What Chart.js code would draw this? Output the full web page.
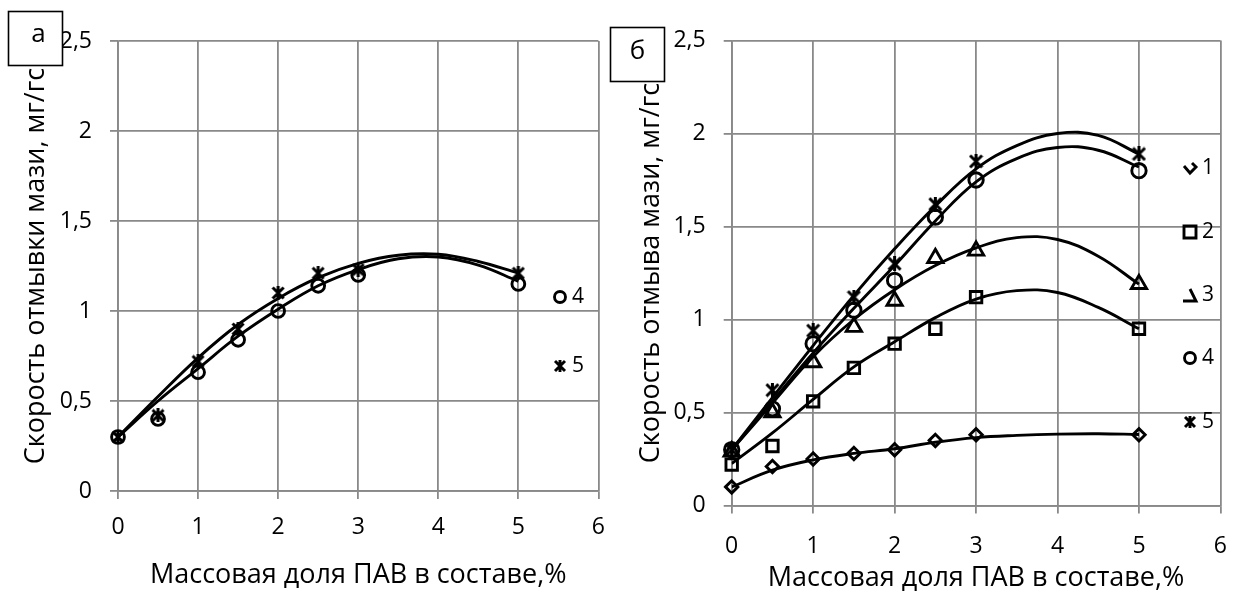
<!DOCTYPE html>
<html>
<head>
<meta charset="utf-8">
<script src="https://cdn.jsdelivr.net/npm/chart.js@4.4.1/dist/chart.umd.min.js"></script>
<style>
  html, body { margin: 0; padding: 0; background: #fff; }
  body { width: 1246px; height: 595px; position: relative; overflow: hidden; }
  canvas { position: absolute; top: 0; }
  #chart-a { left: 0; }
  #chart-b { left: 606px; }
</style>
</head>
<body>
<canvas id="chart-a" width="620" height="595"></canvas>
<canvas id="chart-b" width="640" height="595"></canvas>
<script>
// ---- данные ----
// массовая доля ПАВ, % (точки эксперимента и узлы линий тренда)
const X_POINTS = [0, 0.5, 1, 1.5, 2, 2.5, 3, 5];
const X_TREND = [0, 0.5, 1, 1.5, 2, 2.5, 3, 3.5, 4, 4.5, 5];
const X_TICKS = [0, 1, 2, 3, 4, 5, 6];
const Y_TICKS = [0, 0.5, 1, 1.5, 2, 2.5];
const SERIES_NAMES = ['1', '2', '3', '4', '5'];

// (а) скорость отмывки, составы 4 и 5
const A_S4 = [0.30, 0.40, 0.66, 0.84, 1.00, 1.14, 1.20, 1.15];
const A_S5 = [0.30, 0.42, 0.72, 0.90, 1.10, 1.21, 1.23, 1.21];
const A_T4 = [0.30, 0.50, 0.68, 0.86, 1.01, 1.14, 1.23, 1.29, 1.30, 1.255, 1.165];
const A_T5 = [0.30, 0.525, 0.74, 0.925, 1.07, 1.185, 1.265, 1.31, 1.315, 1.275, 1.21];

// (б) скорость отмыва, составы 1-5
const B_S1 = [0.10, 0.21, 0.25, 0.28, 0.30, 0.35, 0.38, 0.38];
const B_S2 = [0.22, 0.32, 0.56, 0.74, 0.87, 0.95, 1.12, 0.95];
const B_S3 = [0.29, 0.50, 0.77, 0.96, 1.10, 1.33, 1.37, 1.19];
const B_S4 = [0.30, 0.52, 0.87, 1.05, 1.21, 1.55, 1.75, 1.80];
const B_S5 = [0.30, 0.62, 0.94, 1.12, 1.30, 1.62, 1.85, 1.89];
const B_T1 = [0.10, 0.19, 0.245, 0.28, 0.305, 0.34, 0.365, 0.377, 0.384, 0.386, 0.382];
const B_T2 = [0.225, 0.39, 0.57, 0.745, 0.88, 1.01, 1.11, 1.155, 1.145, 1.065, 0.95];
const B_T3 = [0.30, 0.55, 0.80, 1.00, 1.16, 1.29, 1.385, 1.44, 1.43, 1.34, 1.19];
const B_T4 = [0.30, 0.56, 0.82, 1.06, 1.29, 1.53, 1.74, 1.865, 1.925, 1.91, 1.82];
const B_T5 = [0.30, 0.58, 0.86, 1.13, 1.38, 1.61, 1.81, 1.935, 2.00, 1.99, 1.89];

const X_TITLE = 'Массовая доля ПАВ в составе,%';
const GRID = '#898989';
const INK = '#000';
const LW = 2.9;

Chart.defaults.font.family = '"Open Sans", sans-serif';
Chart.defaults.color = INK;

// звёздочка: косой крест + вертикальная черта
function starMark(size, lw) {
  const c = document.createElement('canvas');
  c.width = c.height = size;
  const g = c.getContext('2d');
  g.strokeStyle = INK;
  g.lineWidth = lw;
  const p = lw / 2, q = size - lw / 2;
  g.beginPath();
  g.moveTo(p, p); g.lineTo(q, q);
  g.moveTo(q, p); g.lineTo(p, q);
  g.moveTo(size / 2, 0); g.lineTo(size / 2, size);
  g.stroke();
  return c;
}

function pts(xs, ys) { return xs.map((x, i) => ({ x: x, y: ys[i] })); }

function markers(ys, style, r) {
  return {
    data: pts(X_POINTS, ys), showLine: false, clip: false,
    pointStyle: style, pointRadius: r, pointHoverRadius: r,
    pointBorderColor: INK, pointBackgroundColor: 'rgba(0,0,0,0)', pointBorderWidth: LW
  };
}

function trend(ys) {
  return {
    data: pts(X_TREND, ys), showLine: true, borderColor: INK, borderWidth: LW,
    tension: 0.4, pointRadius: 0, pointHoverRadius: 0, fill: false
  };
}

// значки легенды (в оригинале часть значков обрезана)
function drawLegendMark(ctx, kind, x, y) {
  ctx.save();
  ctx.strokeStyle = INK;
  ctx.lineWidth = LW;
  ctx.beginPath();
  if (kind === 'diamondCut') {
    ctx.moveTo(x - 6, y - 2); ctx.lineTo(x, y + 5); ctx.lineTo(x + 6, y - 1); ctx.lineTo(x + 2, y - 5);
  } else if (kind === 'square') {
    ctx.rect(x - 6, y - 6, 12, 12);
  } else if (kind === 'triangleCut') {
    ctx.moveTo(x, y - 6); ctx.lineTo(x + 6, y + 6); ctx.lineTo(x - 7, y + 6);
  } else if (kind === 'circle') {
    ctx.arc(x, y, 5.5, 0, Math.PI * 2);
  } else if (kind === 'star') {
    ctx.moveTo(x - 5, y - 5); ctx.lineTo(x + 5, y + 5);
    ctx.moveTo(x + 5, y - 5); ctx.lineTo(x - 5, y + 5);
    ctx.moveTo(x, y - 6); ctx.lineTo(x, y + 6);
  }
  ctx.stroke();
  ctx.restore();
}

const legendMarks = {
  id: 'legendMarks',
  afterDraw(chart, args, o) {
    const ctx = chart.ctx;
    ctx.save();
    ctx.font = '21px "Open Sans"';
    ctx.textBaseline = 'middle';
    ctx.fillStyle = INK;
    o.items.forEach(it => {
      drawLegendMark(ctx, it.kind, o.x, it.y);
      ctx.fillText(it.text, o.x + o.gap, it.y);
    });
    ctx.restore();
  }
};

const panelTag = {
  id: 'panelTag',
  afterDraw(chart, args, o) {
    const ctx = chart.ctx;
    ctx.save();
    ctx.fillStyle = '#fff';
    ctx.fillRect(o.x, o.y, o.size, o.size);
    ctx.strokeStyle = INK;
    ctx.lineWidth = 1.6;
    ctx.strokeRect(o.x, o.y, o.size, o.size);
    ctx.fillStyle = INK;
    ctx.font = '26px "Open Sans"';
    ctx.textAlign = 'center';
    ctx.textBaseline = 'middle';
    ctx.fillText(o.text, o.x + o.size / 2 + o.dx, o.y + o.size / 2 + o.dy);
    ctx.restore();
  }
};

function buildOptions(c) {
  return {
    responsive: false,
    animation: false,
    events: [],
    layout: { padding: c.padding },
    plugins: {
      legend: { display: false },
      tooltip: { enabled: false },
      legendMarks: c.legend,
      panelTag: c.tag
    },
    scales: {
      x: {
        type: 'linear', min: 0, max: 6,
        afterBuildTicks: s => { s.ticks = X_TICKS.map(v => ({ value: v })); },
        afterFit: s => { s.height = c.xHeight; },
        grid: { color: GRID, lineWidth: 1.8, tickLength: 8, tickColor: GRID },
        border: { color: GRID, width: 1.8 },
        ticks: { color: INK, font: { size: 23 }, padding: c.xLabelPad, maxRotation: 0 },
        title: { display: true, text: X_TITLE, color: INK, font: { size: 27 }, padding: { top: 0, bottom: c.xTitlePad } }
      },
      y: {
        type: 'linear', min: 0, max: 2.5,
        afterBuildTicks: s => { s.ticks = Y_TICKS.map(v => ({ value: v })); },
        afterFit: s => { s.width = c.yWidth; },
        grid: { color: GRID, lineWidth: 1.8, tickLength: 8, tickColor: GRID },
        border: { color: GRID, width: 1.8 },
        ticks: { color: INK, font: { size: 23 }, padding: 18, callback: v => String(v).replace('.', ',') },
        title: { display: true, text: c.yTitle, color: INK, font: { size: 27 }, padding: { top: c.yTitlePad, bottom: 0 } }
      }
    }
  };
}

// (а)
new Chart(document.getElementById('chart-a'), {
  type: 'scatter',
  data: {
    datasets: [
      trend(A_T4), trend(A_T5),
      markers(A_S4, 'circle', 6.4),
      markers(A_S5, starMark(14, 3), 7)
    ]
  },
  options: buildOptions({
    padding: { left: 0, top: 41, right: 15, bottom: 0 },
    yWidth: 118, xHeight: 104, xLabelPad: 15, xTitlePad: 3, yTitlePad: 20,
    yTitle: 'Скорость отмывки мази, мг/гс',
    legend: { x: 560, gap: 12, items: [
      { kind: 'circle', text: SERIES_NAMES[3], y: 297 },
      { kind: 'star', text: SERIES_NAMES[4], y: 366 }
    ] },
    tag: { text: 'а', x: 8.5, y: 11.5, size: 54, dx: 3, dy: -4 }
  }),
  plugins: [legendMarks, panelTag]
});

// (б)
new Chart(document.getElementById('chart-b'), {
  type: 'scatter',
  data: {
    datasets: [
      trend(B_T1), trend(B_T2), trend(B_T3), trend(B_T4), trend(B_T5),
      markers(B_S1, 'rectRot', 6.2),
      markers(B_S2, 'rect', 8.1),
      markers(B_S3, 'triangle', 8.8),
      markers(B_S4, 'circle', 7.2),
      markers(B_S5, starMark(15, 3), 7.5)
    ]
  },
  options: buildOptions({
    padding: { left: 0, top: 40.5, right: 11, bottom: 0 },
    yWidth: 125.7, xHeight: 89.5, xLabelPad: 19, xTitlePad: 0, yTitlePad: 29,
    yTitle: 'Скорость отмыва мази, мг/гс',
    legend: { x: 584, gap: 12, items: [
      { kind: 'diamondCut', text: SERIES_NAMES[0], y: 168 },
      { kind: 'square', text: SERIES_NAMES[1], y: 232 },
      { kind: 'triangleCut', text: SERIES_NAMES[2], y: 295 },
      { kind: 'circle', text: SERIES_NAMES[3], y: 358 },
      { kind: 'star', text: SERIES_NAMES[4], y: 422 }
    ] },
    tag: { text: 'б', x: 4.5, y: 27.5, size: 54, dx: 0, dy: -3 }
  }),
  plugins: [legendMarks, panelTag]
});
</script>
</body>
</html>
